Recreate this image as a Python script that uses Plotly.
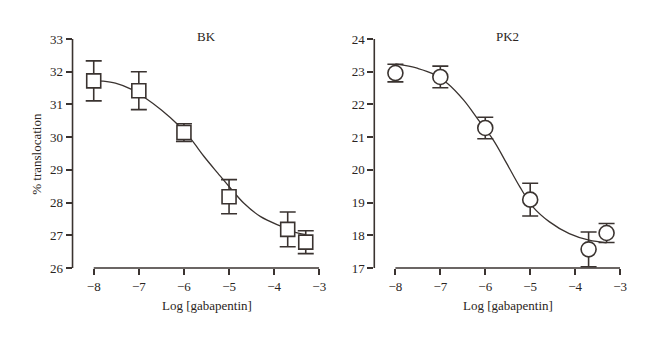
import plotly.graph_objects as go

# ---------------- data ----------------
log_conc = [-8, -7, -6, -5, -3.7, -3.3]

bk_mean = [31.72, 31.42, 30.14, 28.18, 27.18, 26.79]
bk_err = [0.61, 0.58, 0.27, 0.52, 0.53, 0.35]

pk2_mean = [22.96, 22.84, 21.28, 19.09, 17.57, 18.07]
pk2_err = [0.27, 0.33, 0.33, 0.50, 0.53, 0.29]

# fitted curves
bk_fit_x = [-8.0, -7.85, -7.52, -7.16, -6.88, -6.5, -6.15, -5.84, -5.55, -5.25, -5.0, -4.67, -4.30, -3.82, -3.51, -3.3]
bk_fit_y = [31.74, 31.72, 31.65, 31.46, 31.22, 30.83, 30.40, 29.93, 29.40, 28.90, 28.49, 27.98, 27.57, 27.26, 27.08, 27.02]

pk2_fit_x = [-8.0, -7.83, -7.50, -7.17, -6.84, -6.48, -6.15, -5.82, -5.52, -5.23, -4.94, -4.57, -4.13, -3.69, -3.3]
pk2_fit_y = [23.24, 23.20, 23.10, 22.94, 22.64, 22.13, 21.52, 20.91, 20.19, 19.48, 18.87, 18.41, 18.05, 17.85, 17.77]

x_ticks = [-8, -7, -6, -5, -4, -3]
x_tick_text = ["\u22128", "\u22127", "\u22126", "\u22125", "\u22124", "\u22123"]
bk_y_ticks = [26, 27, 28, 29, 30, 31, 32, 33]
pk2_y_ticks = [17, 18, 19, 20, 21, 22, 23, 24]

titles = ["BK", "PK2"]
x_title = "Log [gabapentin]"
y_title = "% translocation"

# ---------------- style ----------------
INK = "#3a3330"
TXT = "#2a2421"
FONT = "Liberation Serif"
FS = 13
LW = 1.6

fig = go.Figure()

# curves (behind markers)
fig.add_trace(go.Scatter(x=bk_fit_x, y=bk_fit_y, mode="lines", line=dict(color=INK, width=1.3, shape="spline"),
                         xaxis="x", yaxis="y", showlegend=False, hoverinfo="skip"))
fig.add_trace(go.Scatter(x=pk2_fit_x, y=pk2_fit_y, mode="lines", line=dict(color=INK, width=1.3, shape="spline"),
                         xaxis="x2", yaxis="y2", showlegend=False, hoverinfo="skip"))

# points with error bars
fig.add_trace(go.Scatter(x=log_conc, y=bk_mean, mode="markers",
                         marker=dict(symbol="square", size=14, color="white", line=dict(color=INK, width=1.6)),
                         error_y=dict(type="data", array=bk_err, visible=True, color=INK, thickness=LW, width=8),
                         xaxis="x", yaxis="y", showlegend=False, cliponaxis=False))
fig.add_trace(go.Scatter(x=log_conc, y=pk2_mean, mode="markers",
                         marker=dict(symbol="circle", size=15, color="white", line=dict(color=INK, width=1.6)),
                         error_y=dict(type="data", array=pk2_err, visible=True, color=INK, thickness=LW, width=8),
                         xaxis="x2", yaxis="y2", showlegend=False, cliponaxis=False))

dom1 = [73.3 / 660, 322.7 / 660]
dom2 = [378.3 / 660, 626.7 / 660]

xcommon = dict(range=[-8.47, -3.0], tickvals=x_ticks, ticktext=x_tick_text, ticks="outside", ticklen=6,
               tickwidth=LW, tickcolor=INK, showline=False, showgrid=False, zeroline=False,
               tickfont=dict(family=FONT, size=FS, color=TXT), fixedrange=True)
ycommon = dict(ticks="outside", ticklen=6, tickwidth=LW, tickcolor=INK, showline=False, showgrid=False,
               zeroline=False, tickfont=dict(family=FONT, size=FS, color=TXT), domain=[0, 1], fixedrange=True)

fig.update_layout(
    width=660, height=343,
    margin=dict(l=0, r=0, t=39, b=75),
    paper_bgcolor="white", plot_bgcolor="white",
    xaxis=dict(domain=dom1, anchor="y", **xcommon),
    yaxis=dict(range=[26, 33], tickvals=bk_y_ticks, anchor="x", **ycommon),
    xaxis2=dict(domain=dom2, anchor="y2", **xcommon),
    yaxis2=dict(range=[17, 24], tickvals=pk2_y_ticks, anchor="x2", **ycommon),
)

# axis lines (offset style)
for xa, ya, y0, y1 in [("x", "y", 26, 33), ("x2", "y2", 17, 24)]:
    fig.add_shape(type="line", xref=f"{xa} domain", x0=0, x1=0, yref=ya, y0=y0, y1=y1,
                  line=dict(color=INK, width=LW))
    fig.add_shape(type="line", xref=xa, x0=-8, x1=-3, yref=f"{ya} domain", y0=0, y1=0,
                  line=dict(color=INK, width=LW))

# panel titles and axis titles
for xa, t in [("x", titles[0]), ("x2", titles[1])]:
    fig.add_annotation(x=-5.5, xref=xa, y=1.013, yref="paper", text=t, showarrow=False,
                       xanchor="center", yanchor="middle", font=dict(family=FONT, size=FS, color=TXT))
    fig.add_annotation(x=-5.5, xref=xa, y=-0.162, yref="paper", text=x_title, showarrow=False,
                       xanchor="center", yanchor="middle", font=dict(family=FONT, size=FS, color=TXT))

fig.add_annotation(x=36.7 / 660, xref="paper", y=0.5, yref="paper", text=y_title, textangle=-90,
                   showarrow=False, xanchor="center", yanchor="middle", font=dict(family=FONT, size=FS, color=TXT))

fig.write_html("out.html")
